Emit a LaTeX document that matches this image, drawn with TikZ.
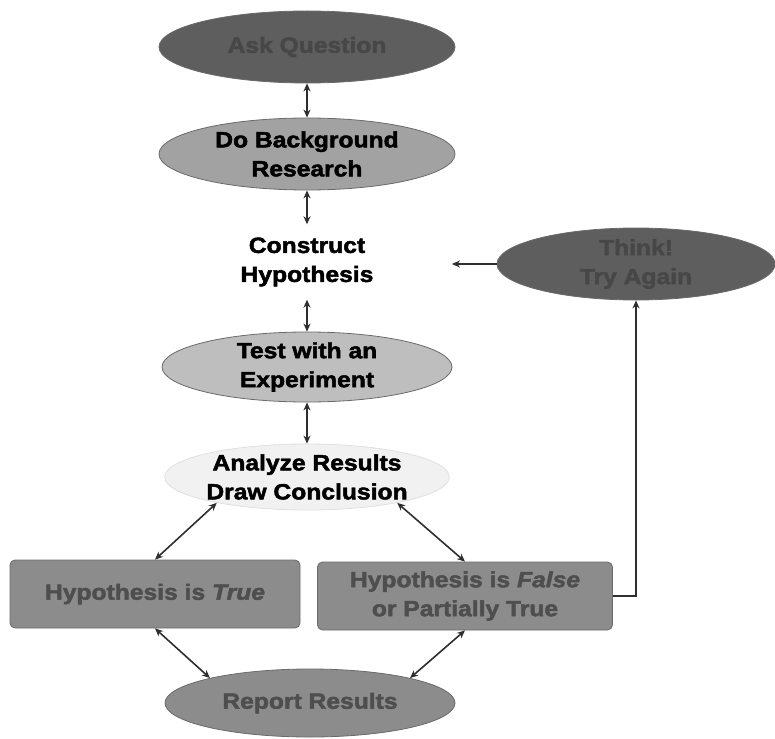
\documentclass[tikz,border=0pt]{standalone}
\usepackage{fontspec}
\setmainfont{Liberation Sans}
\newfontfamily\heavy{Liberation Sans Bold}[FakeBold=2.2,FakeStretch=1.12]
\newfontfamily\heavyit{Liberation Sans Bold Italic}[FakeBold=2.2,FakeStretch=1.12]
\usetikzlibrary{shapes.geometric,arrows.meta}
\definecolor{darkfill}{HTML}{5E5E5E}
\definecolor{darktext}{HTML}{474747}
\definecolor{midfill}{HTML}{8C8C8C}
\definecolor{midtext}{HTML}{4E4E4E}
\definecolor{lightfill}{HTML}{A2A2A2}
\definecolor{paler}{HTML}{BEBEBE}
\definecolor{palest}{HTML}{F1F1F1}
\definecolor{edge}{HTML}{6A6A6A}
\definecolor{arrowc}{HTML}{2E2E2E}
\tikzset{
  lbl/.style={font=\fontsize{22}{29}\heavy, align=center},
  oval/.style={ellipse, lbl, draw=edge, line width=0.8pt, inner sep=0pt},
  box/.style={rectangle, rounded corners=5pt, lbl, draw=edge, line width=0.8pt, fill=midfill, text=midtext, minimum height=68pt},
  link/.style={draw=arrowc, line width=1.6pt, {Stealth[length=8pt,width=7pt]}-{Stealth[length=8pt,width=7pt]}},
  onelink/.style={draw=arrowc, line width=1.6pt, -{Stealth[length=8pt,width=7pt]}}
}
\begin{document}
\begin{tikzpicture}[x=1pt,y=-1pt]
\useasboundingbox (0,0) rectangle (775,738);
\node[oval, fill=darkfill, text=darktext, minimum width=296pt, minimum height=72pt] (ask) at (307,47) {Ask Question};
\node[oval, fill=lightfill, text=black, minimum width=296pt, minimum height=72pt] (research) at (307,154) {Do Background\\Research};
\node[lbl, text=black, minimum height=75pt, inner sep=0pt] (construct) at (307,262) {Construct\\Hypothesis};
\node[oval, fill=paler, text=black, minimum width=290pt, minimum height=64pt] (test) at (307,367) {Test with an\\Experiment};
\node[oval, fill=palest, draw=palest!85!gray, text=black, minimum width=240pt, minimum height=66pt] (analyze) at (307,477) {Analyze Results\\Draw Conclusion};
\node[box, minimum width=290pt] (truebox) at (155,594) {Hypothesis is {\heavyit True}};
\node[box, minimum width=295pt] (falsebox) at (465,596) {Hypothesis is {\heavyit False}\\or Partially True};
\node[oval, fill=midfill, text=midtext, minimum width=290pt, minimum height=68pt] (report) at (310,703) {Report Results};
\node[oval, fill=darkfill, text=darktext, minimum width=278pt, minimum height=72pt] (think) at (636,264) {Think!\\Try Again};
\coordinate (thinkend) at (452,264);

\draw[link] (ask.south) -- (research.north);
\draw[link] (research.south) -- (construct.north);
\draw[link] (construct.south) -- (test.north);
\draw[link] (test.south) -- (analyze.north);
\draw[link] (analyze.196) -- (truebox.north);
\draw[link] (analyze.-16) -- (falsebox.north);
\draw[link] (truebox.south) -- (report.166);
\draw[link] (falsebox.south) -- (report.14);
\draw[onelink] (falsebox.east) -| (think.south);
\draw[onelink] (think.west) -- (thinkend);
\end{tikzpicture}
\end{document}
